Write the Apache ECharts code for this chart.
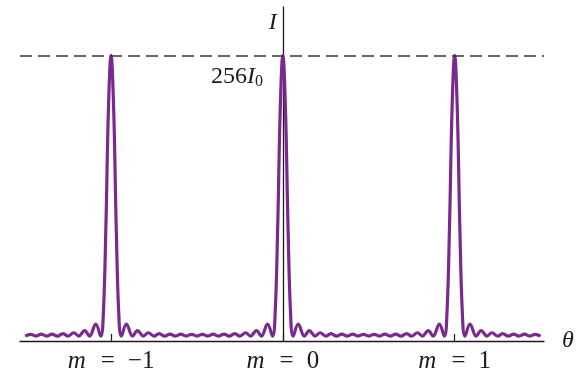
<!DOCTYPE html>
<html>
<head>
<meta charset="utf-8">
<script src="https://cdn.jsdelivr.net/npm/echarts@6/dist/echarts.min.js"></script>
<style>
  html, body {margin: 0; padding: 0; background: #fff;}
  #chart {width: 584px; height: 370px;}
</style>
</head>
<body>
<div id="chart"></div>
<script>
// principal maxima positions (order m)
const orders = [-1, 0, 1];
const orderLabels = ['m = −1', 'm = 0', 'm = 1'];
// one period of the pattern: offset from the order, intensity in I0
const offsets = [-0.5, -0.4688, -0.4375, -0.4063, -0.375, -0.3431, -0.3125, -0.28, -0.25, -0.2169, -0.1875, -0.1538, -0.125, -0.0894, -0.06, -0.045, -0.03, -0.015, 0,
  0.015, 0.03, 0.045, 0.06, 0.0894, 0.125, 0.1538, 0.1875, 0.2169, 0.25, 0.28, 0.3125, 0.3431, 0.375, 0.4063, 0.4375, 0.4688, 0.5];
const intensity = [0, 1.6, 0, 1.7, 0, 1.8, 0, 2.2, 0, 3, 0, 5, 0, 11, 0, 20, 100, 208, 256,
  208, 100, 20, 0, 11, 0, 5, 0, 3, 0, 2.2, 0, 1.8, 0, 1.7, 0, 1.6, 0];
const peakValue = 256;
const peakLabel = '256';

const purple = '#7a2a8c';
const ink = '#1f1b1c';
const serif = 'Liberation Serif';

const points = [];
orders.forEach((m, k) => {
  offsets.forEach((o, i) => {
    if (k > 0 && i === 0) return; // shared zero with previous order
    points.push([m + o, intensity[i]]);
  });
});

const myChart = echarts.init(document.getElementById('chart'));
myChart.setOption({
  animation: false,
  grid: {left: 20, right: 40, top: 7, bottom: 29, containLabel: false, outerBoundsMode: 'none'},
  xAxis: {
    type: 'value',
    min: -1.53,
    max: 1.52,
    name: 'θ',
    nameLocation: 'end',
    nameGap: 18,
    nameTextStyle: {fontFamily: serif, fontStyle: 'italic', fontSize: 24, color: ink, verticalAlign: 'middle'},
    axisLine: {onZero: false, lineStyle: {color: ink, width: 1.3}},
    axisTick: {show: true, inside: true, length: 7, customValues: orders, lineStyle: {color: ink, width: 1.2}},
    axisLabel: {
      customValues: orders,
      margin: 8,
      formatter: (v) => {
        const idx = orders.indexOf(Math.round(v));
        const txt = orderLabels[idx] || '';
        const parts = txt.split(' ');
        return '{i|' + parts[0] + '}{e|' + parts[1] + '}{v|' + parts[2] + '}';
      },
      rich: {
        i: {fontFamily: serif, fontStyle: 'italic', fontSize: 25, color: ink},
        e: {fontFamily: serif, fontSize: 25, color: ink, padding: [0, 0, 0, 15]},
        v: {fontFamily: serif, fontSize: 25, color: ink, padding: [0, 0, 0, 13]}
      }
    },
    splitLine: {show: false}
  },
  yAxis: {
    type: 'value',
    min: -4.5,
    max: 300,
    name: 'I',
    nameLocation: 'end',
    nameGap: -16,
    nameTextStyle: {fontFamily: serif, fontStyle: 'italic', fontSize: 24, color: ink, align: 'right', verticalAlign: 'middle', padding: [0, 6, 0, 0]},
    axisLine: {show: true, onZero: true, lineStyle: {color: ink, width: 1.3}},
    axisTick: {show: false},
    splitLine: {show: false},
    axisLabel: {
      customValues: [peakValue],
      // labels stay at the grid's left edge, so pull this one in next to the zero line
      margin: -243,
      verticalAlign: 'top',
      padding: [7, 0, 0, 0],
      formatter: () => '{n|' + peakLabel + '}{i|I}{s|0}',
      rich: {
        n: {fontFamily: serif, fontSize: 24, color: ink},
        i: {fontFamily: serif, fontStyle: 'italic', fontSize: 24, color: ink},
        s: {fontFamily: serif, fontSize: 16, color: ink, padding: [12, 0, 0, 0]}
      }
    }
  },
  series: [{
    type: 'line',
    data: points,
    smooth: 0.4,
    showSymbol: false,
    clip: false,
    lineStyle: {color: purple, width: 3.2},
    markLine: {
      silent: true,
      symbol: 'none',
      label: {show: false},
      lineStyle: {type: [12, 6], color: '#383838', width: 1.5},
      data: [{yAxis: peakValue}]
    }
  }]
});
</script>
</body>
</html>
